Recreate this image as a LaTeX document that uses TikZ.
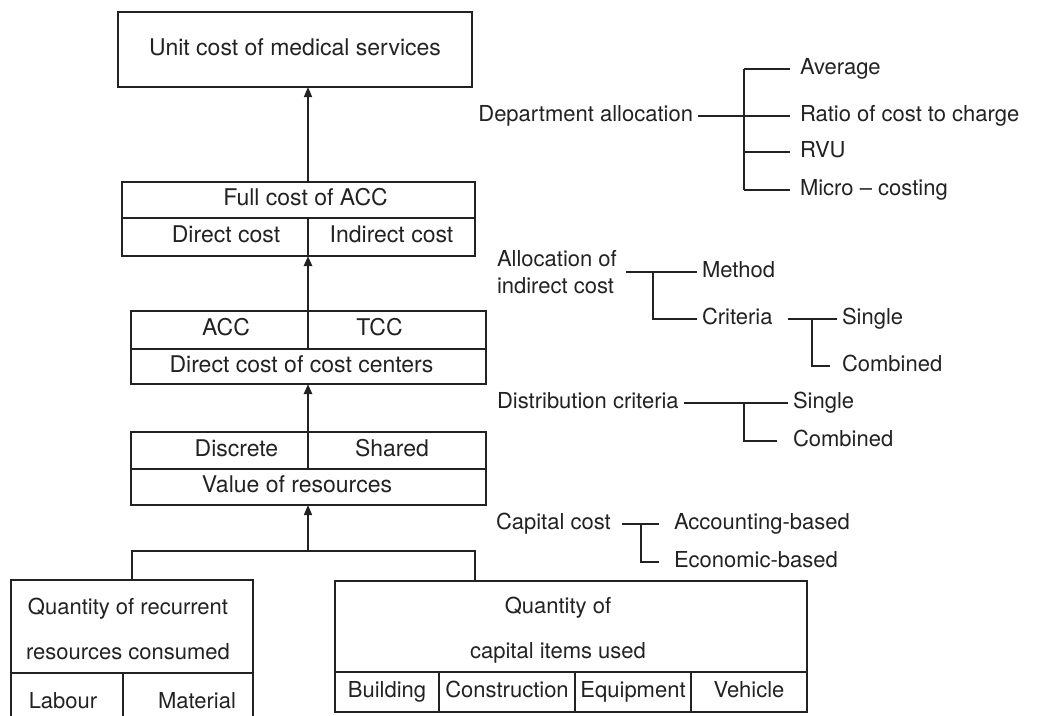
\documentclass[tikz,border=0pt]{standalone}
\usepackage{fontspec}
\setmainfont{TeX Gyre Heros}
\usetikzlibrary{arrows.meta,calc}
\definecolor{ink}{HTML}{222222}
\newcommand\mycell[6]{\node[cell,minimum width={(#4-#2)*1pt},minimum height={(#5-#3)*1pt}] (#1) at ({(#2+#4)/2},{(#3+#5)/2}) {#6};}
\begin{document}
\begin{tikzpicture}[x=1pt,y=-1pt,
  every node/.style={font=\fontsize{22}{26}\selectfont, text=ink},
  cell/.style={draw=ink, line width=1.3pt, inner sep=0pt, outer sep=0pt, text height=16pt, text depth=5pt},
  bigcell/.style={font=\fontsize{23}{27}\selectfont},
  lbl/.style={inner xsep=5pt, inner ysep=0pt, outer sep=0pt, text height=16pt, text depth=5pt},
  lbltwo/.style={inner xsep=5pt, inner ysep=0pt, outer sep=0pt, align=left, font=\fontsize{22}{27}\selectfont},
  txttwo/.style={inner sep=0pt, align=center, font=\fontsize{22}{44.5}\selectfont},
  conn/.style={draw=ink, line width=1.3pt},
  arr/.style={conn, -{Triangle[length=10pt,width=8pt]}},
  thickarr/.style={arr, line width=2.4pt}
]
\useasboundingbox (0,0) rectangle (1043,715);

% main column boxes
\begin{scope}[every node/.append style={bigcell}]
\mycell{unit}{118}{12}{472}{87}{Unit cost of medical services}
\mycell{full}{122}{182}{475}{218}{\kern14pt Full cost of ACC}
\mycell{direct}{122}{218}{308}{256}{\kern22pt Direct cost}
\mycell{indirect}{308}{218}{475}{256}{Indirect cost}
\mycell{acc}{131}{311}{308}{349}{\kern13pt ACC}
\mycell{tcc}{308}{311}{486}{349}{TCC\kern35pt}
\mycell{dcc}{131}{349}{486}{384}{Direct cost of cost centers\kern14pt}
\mycell{discrete}{131}{432}{308}{469}{\kern34pt Discrete}
\mycell{shared}{308}{432}{486}{469}{Shared\kern10pt}
\mycell{value}{131}{469}{486}{505}{Value of resources\kern23pt}
\end{scope}

% bottom boxes
\mycell{recur}{11}{580}{253}{673}{}
\node[txttwo] (recurtext) at (128,629) {Quantity of recurrent\\resources consumed};
\mycell{labour}{11}{673}{123}{733}{Labour\kern8pt}
\mycell{material}{123}{673}{253}{733}{\kern18pt Material}
\mycell{capq}{335}{581}{807}{672}{}
\node[txttwo] (capqtext) at (558,630) {Quantity of\\capital items used};
\mycell{building}{335}{672}{439}{712}{Building}
\mycell{construction}{439}{672}{575}{712}{Construction}
\mycell{equipment}{575}{672}{691}{712}{Equipment}
\mycell{vehicle}{691}{672}{807}{712}{Vehicle}

% main arrows
\draw[arr] (full.north -| direct.north east) -- (unit.south -| direct.north east);
\draw[thickarr] (acc.north east) -- (direct.south east);
\draw[thickarr] (discrete.north east) -- (dcc.south -| discrete.north east);
\coordinate (bus) at (308,551);
\draw[arr] (bus) -- (value.south -| bus);
\draw[conn] (recur.north) |- (bus) -| ([xshift=140pt]capq.north west);

% Department allocation tree
\node[lbl,anchor=east] (dept) at (698,116) {Department allocation};
\node[lbl,anchor=west] (avg) at (795,69) {Average};
\node[lbl,anchor=west] (ratio) at (795,116) {Ratio of cost to charge};
\node[lbl,anchor=west] (rvu) at (795,152) {RVU};
\node[lbl,anchor=west] (micro) at (795,190) {Micro – costing};
\coordinate (dj) at (744,116);
\draw[conn,shorten >=5pt] (dept.east) -- (ratio.west);
\draw[conn] (dj |- avg.west) -- (dj |- micro.west);
\draw[conn,shorten >=5pt] (dj |- avg.west) -- (avg.west);
\draw[conn,shorten >=5pt] (dj |- rvu.west) -- (rvu.west);
\draw[conn,shorten >=5pt] (dj |- micro.west) -- (micro.west);

% Allocation of indirect cost tree
\node[lbltwo,anchor=west] (aic) at (492,272) {Allocation of\\indirect cost};
\node[lbl,anchor=west] (method) at (697,272) {Method};
\node[lbl,anchor=west] (crit) at (697,319) {Criteria};
\coordinate (aj) at (653,272);
\draw[conn,shorten <=4pt] (aic.east) -- (method.west);
\draw[conn] (aj) |- (crit.west);
\node[lbl,anchor=west] (singleone) at (837,319) {Single};
\node[lbl,anchor=west] (combone) at (837,366) {Combined};
\coordinate (cj) at (812,319);
\draw[conn,shorten <=10pt] (crit.east) -- (singleone.west);
\draw[conn,shorten >=7pt] (cj) |- (combone.west);

% Distribution criteria tree
\node[lbl,anchor=west] (dist) at (492,403) {Distribution criteria};
\node[lbl,anchor=west] (singletwo) at (788,403) {Single};
\node[lbl,anchor=west] (combtwo) at (788,441) {Combined};
\coordinate (dtj) at (744,403);
\draw[conn] (dist.east) -- (singletwo.west);
\draw[conn,shorten >=11pt] (dtj) |- (combtwo.west);

% Capital cost tree
\node[lbl,anchor=west] (capc) at (491,524) {Capital cost};
\node[lbl,anchor=west] (acct) at (669,524) {Accounting-based};
\node[lbl,anchor=west] (econ) at (669,562) {Economic-based};
\coordinate (kj) at (641,524);
\draw[conn,shorten <=6pt,shorten >=10pt] (capc.east) -- (acct.west);
\draw[conn,shorten >=10pt] (kj) |- (econ.west);
\end{tikzpicture}
\end{document}
